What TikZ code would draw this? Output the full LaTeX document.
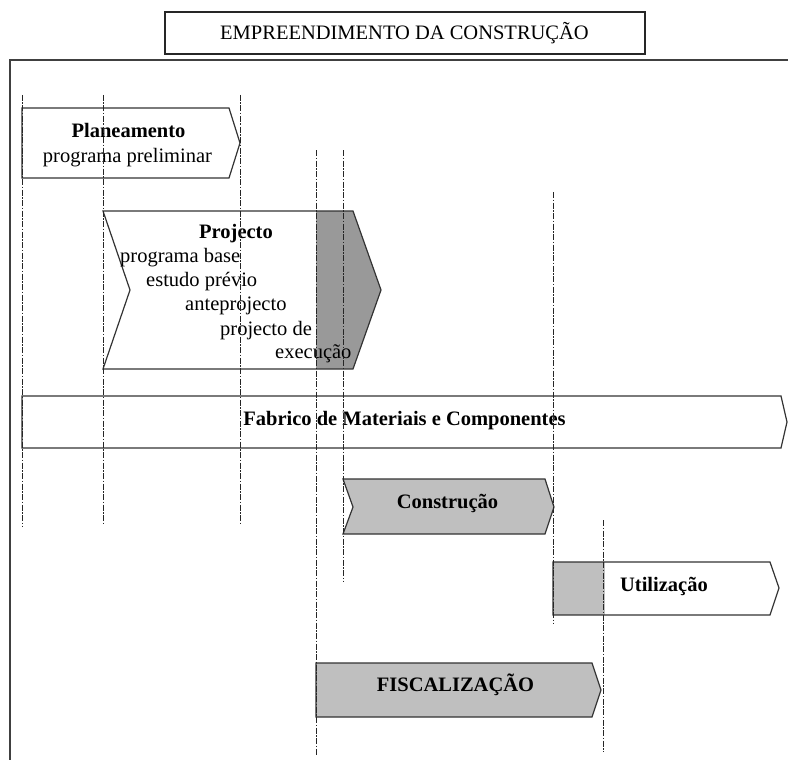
\documentclass[tikz,border=0pt]{standalone}
\usepackage{fontspec}
\setmainfont{Liberation Serif}
\begin{document}
\begin{tikzpicture}[x=1pt,y=-1pt,
  shapeline/.style={draw=black!80,line width=1.2pt,line join=miter},
  lightgray/.style={fill=black!25},
  darkgray/.style={fill=black!40},
  guide/.style={draw=black!85,line width=0.9pt,dash pattern=on 6pt off 1.5pt on 1.5pt off 1.5pt},
  txt/.style={inner sep=0pt,anchor=base,font=\fontsize{20.5}{24}\selectfont},
  btxt/.style={txt,font=\fontsize{20.5}{24}\selectfont\bfseries},
  ltxt/.style={txt,anchor=base west}]
\useasboundingbox (0,0) rectangle (788,760);
% title
\draw[draw=black!85,line width=1.2pt] (165,12) rectangle (645,54);
\node[txt] (title) at (404.5,40) {EMPREENDIMENTO DA CONSTRUÇÃO};
% outer frame
\draw[draw=black!75,line width=1.5pt] (10,760) -- (10,60) -- (788,60);
% Planeamento
\path[shapeline,fill=white] (22,108) -- (229,108) -- (240,143) -- (229,178) -- (22,178) -- cycle;
\node[btxt] (plan) at (128.5,137) {Planeamento};
\node[txt] (planA) at (127.5,162) {programa preliminar};
% Projecto
\path[fill=white] (103,211) -- (316,211) -- (316,369) -- (103,369) -- (130,290) -- cycle;
\path[darkgray] (316,211) -- (353,211) -- (381,290) -- (353,369) -- (316,369) -- cycle;
\path[shapeline] (103,211) -- (353,211) -- (381,290) -- (353,369) -- (103,369) -- (130,290) -- cycle;
\node[btxt] (proj) at (236,238) {Projecto};
\node[ltxt] (projA) at (120,262) {programa base};
\node[ltxt] (projB) at (146,286) {estudo prévio};
\node[ltxt] (projC) at (185,310) {anteprojecto};
\node[ltxt] (projD) at (220,335) {projecto de};
\node[ltxt] (projE) at (275,358) {execução};
% Fabrico
\path[shapeline,fill=white] (22,396) -- (781,396) -- (787,422) -- (781,448) -- (22,448) -- cycle;
\node[btxt] (fab) at (404.5,425) {Fabrico de Materiais e Componentes};
% Construcao
\path[shapeline,lightgray] (343,479) -- (545,479) -- (554,507) -- (545,534) -- (343,534) -- (353,507) -- cycle;
\node[btxt] (cons) at (447.5,508) {Construção};
% Utilizacao
\path[lightgray] (553,562) rectangle (605,615);
\path[shapeline] (553,562) -- (770,562) -- (779,588) -- (770,615) -- (553,615) -- cycle;
\node[btxt] (util) at (664,591) {Utilização};
% Fiscalizacao
\path[shapeline,lightgray] (316,663) -- (592,663) -- (601,690) -- (592,717) -- (316,717) -- cycle;
\node[btxt] (fisc) at (455.5,691) {FISCALIZAÇÃO};
% guide lines
\coordinate (g1t) at (22,95);  \coordinate (g1b) at (22,527);
\coordinate (g2t) at (103,95); \coordinate (g2b) at (103,525);
\coordinate (g3t) at (240,95); \coordinate (g3b) at (240,525);
\coordinate (g4t) at (316,150); \coordinate (g4b) at (316,756);
\coordinate (g5t) at (343,150); \coordinate (g5b) at (343,582);
\coordinate (g6t) at (553,192); \coordinate (g6b) at (553,624);
\coordinate (g7t) at (603,520); \coordinate (g7b) at (603,752);
\foreach \i in {1,...,7} \draw[guide] (g\i t) -- (g\i b);
\end{tikzpicture}
\end{document}
